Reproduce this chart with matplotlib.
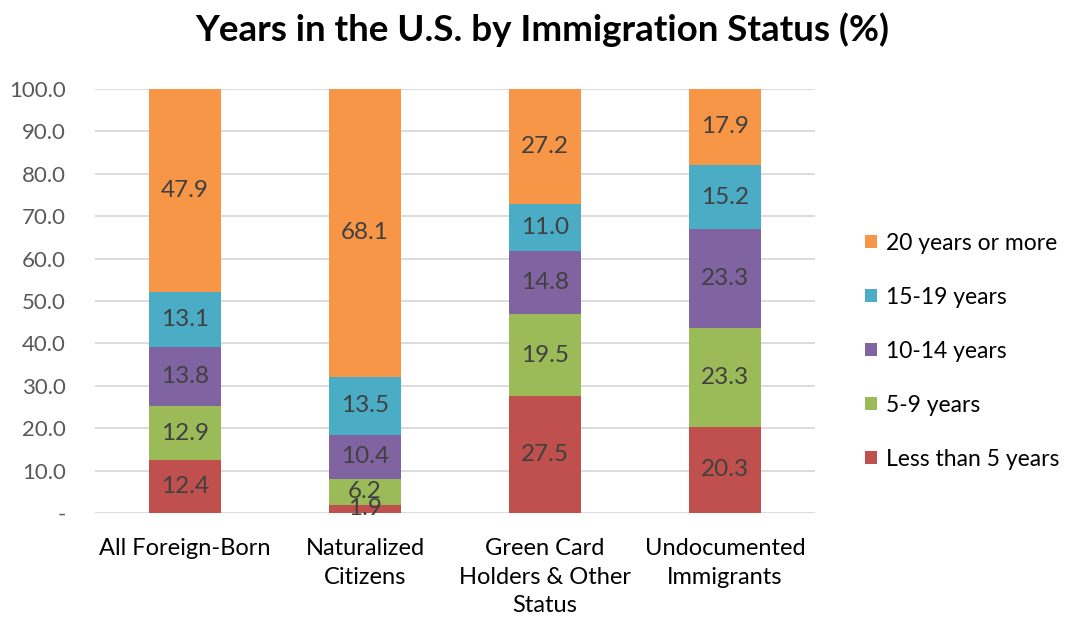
import matplotlib
matplotlib.use("Agg")
import matplotlib.pyplot as plt
import numpy as np

categories = ["All Foreign-Born", "Naturalized\nCitizens", "Green Card\nHolders & Other\nStatus", "Undocumented\nImmigrants"]
series_names = ["Less than 5 years", "5-9 years", "10-14 years", "15-19 years", "20 years or more"]
less5 = [12.4, 1.9, 27.5, 20.3]
y5_9 = [12.9, 6.2, 19.5, 23.3]
y10_14 = [13.8, 10.4, 14.8, 23.3]
y15_19 = [13.1, 13.5, 11.0, 15.2]
y20plus = [47.9, 68.1, 27.2, 17.9]
series_values = [less5, y5_9, y10_14, y15_19, y20plus]
colors = ["#C0504D", "#9BBB59", "#8064A2", "#4BACC6", "#F79646"]
yticks = [0, 10, 20, 30, 40, 50, 60, 70, 80, 90, 100]
ytick_labels = ["-"] + [f"{v:.1f}" for v in yticks[1:]]

plt.rcParams['font.family'] = ['Lato', 'DejaVu Sans']

fig = plt.figure(figsize=(10.68, 6.2), dpi=100)
ax = fig.add_axes([95/1068, 1-513/620, 720/1068, 424/620])

x = np.arange(len(categories))
bottom = np.zeros(len(categories))
handles = []
for name, vals, col in zip(series_names, series_values, colors):
    vals = np.array(vals)
    b = ax.bar(x, vals, 0.4, bottom=bottom, color=col, label=name, zorder=3)
    handles.append(b)
    for xi, v, bt in zip(x, vals, bottom):
        ax.text(xi, bt + v/2, f"{v:.1f}", ha="center", va="center",
                fontsize=17.5, color="#404040", zorder=4)
    bottom += vals

ax.set_xlim(-0.5, len(categories) - 0.5)
ax.set_ylim(0, 100)
ax.set_yticks(yticks)
ax.set_yticklabels(ytick_labels)
ax.set_xticks(x)
ax.set_xticklabels(categories, fontsize=17, color="#000000", linespacing=1.45, va="top")
ax.tick_params(axis="y", length=0, pad=21, labelsize=16, labelcolor="#595959")
ax.tick_params(axis="x", length=0, pad=18)
ax.grid(axis="y", color="#D9D9D9", linewidth=1.3, zorder=0)
for s in ["top", "right", "left", "bottom"]:
    ax.spines[s].set_visible(False)

leg = ax.legend(handles[::-1], series_names[::-1], loc="center left",
                bbox_to_anchor=(1.069, 0.382), frameon=False, fontsize=16.5,
                handlelength=0.52, handleheight=0.52, handletextpad=0.4,
                labelspacing=1.44, borderpad=0, borderaxespad=0)

fig.suptitle("Years in the U.S. by Immigration Status (%)", x=0.508, y=0.98,
             fontsize=26.5, fontweight="bold", color="#000000")

fig.savefig("out.png", dpi=100)
